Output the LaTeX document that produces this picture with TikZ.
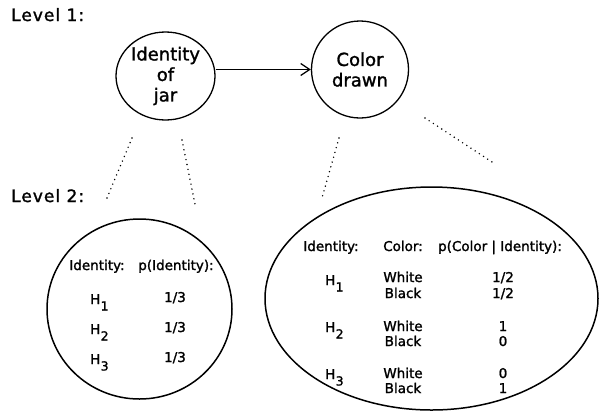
\documentclass[tikz,border=0pt]{standalone}
\usepackage{fontspec}
\setmainfont{DejaVu Sans}[BoldFont={DejaVu Sans},BoldFeatures={FakeBold=1.5}]
\usetikzlibrary{arrows.meta,shapes.geometric}
\newcommand\Hsub[1]{H\kern0.3pt\raisebox{-6.5pt}{\fontsize{12.5}{12.5}\selectfont #1}}
\begin{document}
\begin{tikzpicture}[x=1pt,y=-1pt,
  lvl/.style={anchor=base west,inner sep=0pt,font=\fontsize{17}{20}\selectfont\bfseries\addfontfeatures{LetterSpace=6}},
  bubble/.style={draw,line width=1.3pt,inner sep=0pt,align=center,font=\fontsize{18}{20.5}\selectfont\bfseries},
  tab/.style={anchor=base,inner sep=0pt,font=\fontsize{13.5}{16}\selectfont\bfseries},
  hyp/.style={anchor=base west,inner sep=0pt,font=\fontsize{13.5}{16}\selectfont\bfseries},
  dots/.style={line width=1.6pt,line cap=round,dash pattern=on 0pt off 5pt},
  pool/.style={draw,ellipse,line width=1.5pt,inner sep=0pt}]
\useasboundingbox (0,0) rectangle (599,416);
% level labels
\node[lvl] (l1) at (11,21) {Level 1:};
\node[lvl] (l2) at (11,202) {Level 2:};
% level 1 nodes
\node[bubble,ellipse,minimum width=99pt,minimum height=88pt] (c1) at (165.5,76) {Identity\\of\\jar};
\node[bubble,circle,minimum size=97pt] (c2) at (360,69.5) {Color\\drawn};
\draw[line width=1.3pt,-{Straight Barb[length=9pt,width=12pt]}] (c1.east |- c2.west) -- (c2.west);
% level 2 ellipses
\node[pool,minimum width=185pt,minimum height=180pt] (e1) at (139.5,309) {};
\node[pool,minimum width=333pt,minimum height=223pt] (e2) at (431.5,298.5) {};
% dotted connectors
\coordinate (a1) at (132,138); \coordinate (b1) at (107,198);
\coordinate (a2) at (182,140); \coordinate (b2) at (195,204);
\coordinate (a3) at (339,138); \coordinate (b3) at (322,198);
\coordinate (a4) at (425,118); \coordinate (b4) at (492,162);
\draw[dots] (a1) -- (b1);
\draw[dots] (a2) -- (b2);
\draw[dots] (a3) -- (b3);
\draw[dots] (a4) -- (b4);
% left table
\node[tab] (lh1) at (97,270) {Identity:};
\node[tab] (lh2) at (176,270) {p(Identity):};
\node[hyp] (lH1) at (90,304) {\Hsub{1}};
\node[hyp] (lH2) at (90,334) {\Hsub{2}};
\node[hyp] (lH3) at (90,364) {\Hsub{3}};
\node[tab] (lp1) at (175,302) {1/3};
\node[tab] (lp2) at (175,332) {1/3};
\node[tab] (lp3) at (175,362) {1/3};
% right table
\node[tab] (rh1) at (331,251) {Identity:};
\node[tab] (rh2) at (403,251) {Color:};
\node[tab] (rh3) at (500,251) {p(Color | Identity):};
\node[hyp] (rH1) at (325,285) {\Hsub{1}};
\node[hyp] (rH2) at (325,332) {\Hsub{2}};
\node[hyp] (rH3) at (325,379) {\Hsub{3}};
\node[tab] (w1) at (403,282) {White};
\node[tab] (k1) at (403,298) {Black};
\node[tab] (w2) at (403,331) {White};
\node[tab] (k2) at (403,346) {Black};
\node[tab] (w3) at (403,378) {White};
\node[tab] (k3) at (403,393) {Black};
\node[tab] (v1) at (503,282) {1/2};
\node[tab] (v2) at (503,298) {1/2};
\node[tab] (v3) at (503,331) {1};
\node[tab] (v4) at (503,346) {0};
\node[tab] (v5) at (503,378) {0};
\node[tab] (v6) at (503,393) {1};
\end{tikzpicture}
\end{document}
